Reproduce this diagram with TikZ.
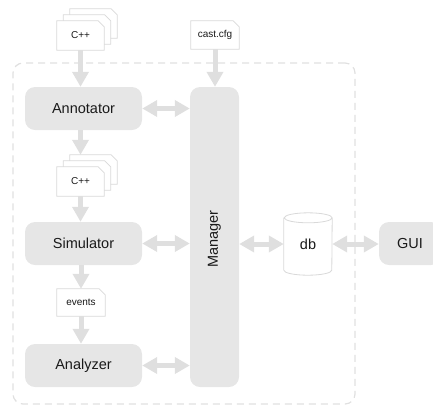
\documentclass[tikz,border=0pt]{standalone}
\usepackage{fontspec}
\setmainfont{Liberation Sans}
\usetikzlibrary{arrows.meta,backgrounds,calc}
\definecolor{boxfill}{HTML}{E6E6E6}
\definecolor{arrowc}{HTML}{DFDFDF}
\definecolor{linec}{HTML}{D9D9D9}
\definecolor{dashc}{HTML}{E0E0E0}
\definecolor{textc}{HTML}{1A1A1A}
\newcommand\mydoc[3]{%
  \path[docline] ([shift={(#2,#3)}]#1.south west) -- ([shift={(#2,#3)}]#1.north west)
    -- ([shift={(#2,#3)},xshift=-6pt]#1.north east) -- ([shift={(#2,#3)},yshift=-6pt]#1.north east)
    -- ([shift={(#2,#3)}]#1.south east) -- cycle;}
\begin{document}
\begin{tikzpicture}[x=1pt,y=-1pt,
  procbox/.style={fill=boxfill, rounded corners=10pt, minimum width=117pt, minimum height=43pt,
    inner sep=0pt, text=textc, font=\fontsize{14.5}{17}\selectfont},
  biglabel/.style={inner sep=0pt, text=textc, font=\fontsize{14.5}{17}\selectfont},
  docnode/.style={minimum width=47pt, minimum height=29pt, inner sep=0pt, text=textc,
    font=\fontsize{10}{12}\selectfont},
  docline/.style={draw=linec, fill=white, line width=0.8pt},
  flow/.style={draw=arrowc, line width=5pt, -{Triangle[length=15pt,width=16pt]}},
  biflow/.style={draw=arrowc, line width=5pt,
    {Triangle[length=15pt,width=16pt]}-{Triangle[length=15pt,width=16pt]}},
  container/.style={draw=dashc, line width=1.2pt, dash pattern=on 7pt off 5pt,
    rounded corners=10pt, minimum width=342pt, minimum height=341pt, inner sep=0pt}
]
\useasboundingbox (0,0) rectangle (433,408);

% container
\node[container] (sys) at (184,233.5) {};

% process boxes
\node[procbox] (annot) at (83.5,108.5) {Annotator};
\node[procbox] (sim) at (83.5,243.5) {Simulator};
\node[procbox] (ana) at (83.5,365.5) {Analyzer};
\node[procbox, minimum width=49pt, minimum height=300pt] (mgr) at (214.5,237) {};
\node[biglabel, rotate=90] (mgrlabel) at (214.5,239) {Manager};
\node[procbox, minimum width=62pt] (gui) at (410,243.5) {GUI};

% documents
\node[docnode] (cpp1) at (80.5,35.5) {C++};
\node[docnode, minimum width=48pt, minimum height=28pt] (cast) at (215,35) {cast.cfg};
\node[docnode] (cpp2) at (80.5,181.5) {C++};
\node[docnode, minimum width=48pt, minimum height=27pt] (events) at (81,302.5) {events};

% database
\node[biglabel, minimum width=48pt, minimum height=62pt] (db) at (308,244) {db};

\begin{pgfonlayer}{background}
  \mydoc{cpp1}{13}{-12}
  \mydoc{cpp1}{6.5}{-6}
  \mydoc{cpp1}{0}{0}
  \mydoc{cpp2}{13}{-12}
  \mydoc{cpp2}{6.5}{-6}
  \mydoc{cpp2}{0}{0}
  \mydoc{cast}{0}{0}
  \mydoc{events}{0}{0}
  \path[docline] ([yshift=-5pt]db.north west) -- ([yshift=5pt]db.south west)
    arc[start angle=180, end angle=360, x radius=24pt, y radius=5pt]
    -- ([yshift=-5pt]db.north east)
    arc[start angle=0, end angle=180, x radius=24pt, y radius=5pt]
    arc[start angle=180, end angle=360, x radius=24pt, y radius=5pt];
\end{pgfonlayer}

% flows
\draw[flow] (cpp1.south) -- (cpp1.south |- annot.north);
\draw[flow] (annot.south -| cpp1.south) -- ([yshift=12pt]cpp2.north);
\draw[flow] (cpp2.south) -- (cpp2.south |- sim.north);
\draw[flow] (sim.south -| events.north) -- (events.north);
\draw[flow] (events.south) -- (events.south |- ana.north);
\draw[flow] (cast.south) -- (cast.south |- mgr.north);

\draw[biflow] (annot.east) -- (annot.east -| mgr.west);
\draw[biflow] (sim.east) -- (sim.east -| mgr.west);
\draw[biflow] (ana.east) -- (ana.east -| mgr.west);
\draw[biflow] (mgr.east |- db.center) -- (db.west);
\draw[biflow] (db.east) -- (db.east -| gui.west);
\end{tikzpicture}
\end{document}
